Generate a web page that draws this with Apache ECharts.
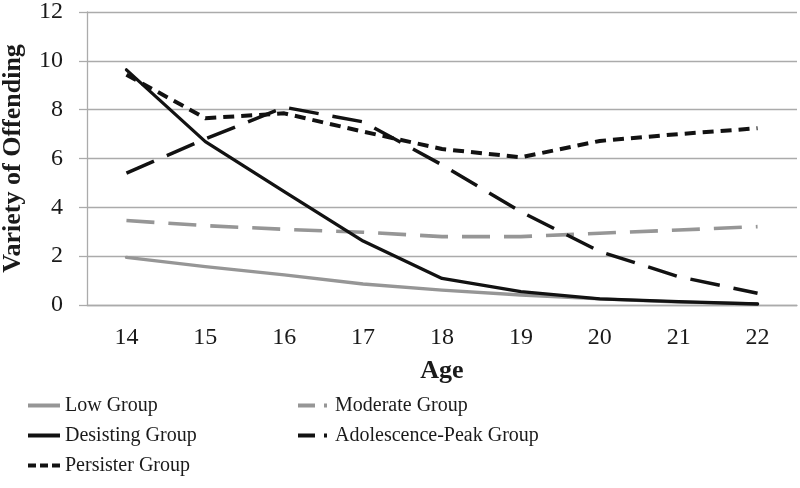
<!DOCTYPE html>
<html>
<head>
<meta charset="utf-8">
<script src="https://cdn.jsdelivr.net/npm/echarts@6/dist/echarts.min.js"></script>
<style>html,body{margin:0;padding:0;background:#fff}#c{width:800px;height:488px}</style>
</head>
<body>
<div id="c"></div>
<script>
var ages = ['14','15','16','17','18','19','20','21','22'];
var lowGroup = [1.95, 1.57, 1.23, 0.86, 0.61, 0.41, 0.25, 0.12, 0.05];
var moderateGroup = [3.46, 3.25, 3.1, 2.98, 2.8, 2.8, 2.94, 3.07, 3.21];
var desistingGroup = [9.63, 6.69, 4.64, 2.62, 1.09, 0.55, 0.25, 0.14, 0.04];
var adolescencePeakGroup = [5.4, 6.8, 8.1, 7.5, 5.74, 3.82, 2.19, 1.16, 0.48];
var persisterGroup = [9.43, 7.65, 7.85, 7.1, 6.39, 6.05, 6.72, 7.0, 7.24];
var yTicks = [0, 2, 4, 6, 8, 10, 12];

var FONT = '"Liberation Serif", "Times New Roman", serif';
var GRAY = '#969696';
var BLACK = '#121212';
var GRID = '#ababab';

var chart = echarts.init(document.getElementById('c'), null, {renderer: 'canvas'});

function line(name, data, color, width, dash) {
  return {
    name: name, type: 'line', data: data, symbol: 'none', smooth: false,
    lineStyle: {color: color, width: width, type: dash || 'solid', cap: dash ? 'butt' : 'round', join: 'round'},
    itemStyle: {color: color},
    emphasis: {disabled: true}, animation: false
  };
}

function legendItem(name, color, dash) {
  return {name: name, lineStyle: {color: color, width: 4, type: dash || 'solid', cap: 'butt'}};
}

var legendText = {fontFamily: FONT, fontSize: 20, color: '#1a1a1a', lineHeight: 21};
var legendBase = {orient: 'vertical', top: 395, padding: 0, itemWidth: 32, itemHeight: 14, itemGap: 9,
  textStyle: legendText, selectedMode: false, itemStyle: {opacity: 0}};

chart.setOption({
  animation: false,
  grid: {left: 87, right: 3, top: 12, bottom: 183, containLabel: false, outerBoundsMode: 'none'},
  xAxis: {
    type: 'category', data: ages, boundaryGap: true,
    name: 'Age', nameLocation: 'middle', nameGap: 53,
    nameTextStyle: {fontFamily: FONT, fontSize: 26, fontWeight: 'bold', color: '#1a1a1a'},
    axisLine: {show: true, lineStyle: {color: GRID, width: 1.3}},
    axisTick: {show: false},
    axisLabel: {fontFamily: FONT, fontSize: 24, color: '#1a1a1a', margin: 21}
  },
  yAxis: {
    type: 'value', min: yTicks[0], max: yTicks[yTicks.length - 1], interval: 2,
    name: 'Variety of Offending', nameLocation: 'middle', nameGap: 61,
    nameTextStyle: {fontFamily: FONT, fontSize: 26, fontWeight: 'bold', color: '#1a1a1a'},
    axisLine: {show: true, lineStyle: {color: GRID, width: 1.3}},
    axisTick: {show: true, length: 8, lineStyle: {color: GRID, width: 1.3}},
    splitLine: {show: true, lineStyle: {color: GRID, width: 1.3}},
    axisLabel: {fontFamily: FONT, fontSize: 24, color: '#1a1a1a', margin: 24}
  },
  legend: [
    Object.assign({left: 26, data: [
      legendItem('Low Group', GRAY),
      legendItem('Desisting Group', BLACK),
      legendItem('Persister Group', BLACK, [8, 4])
    ]}, legendBase),
    Object.assign({left: 296, data: [
      legendItem('Moderate Group', GRAY, [17, 9, 3, 20]),
      legendItem('Adolescence-Peak Group', BLACK, [17, 9, 3, 20])
    ]}, legendBase)
  ],
  series: [
    line('Low Group', lowGroup, GRAY, 3.3),
    line('Moderate Group', moderateGroup, GRAY, 3.6, [28, 14]),
    line('Desisting Group', desistingGroup, BLACK, 3.3),
    line('Adolescence-Peak Group', adolescencePeakGroup, BLACK, 3.5, [30, 14]),
    line('Persister Group', persisterGroup, BLACK, 4, [11, 7])
  ]
});
</script>
</body>
</html>
